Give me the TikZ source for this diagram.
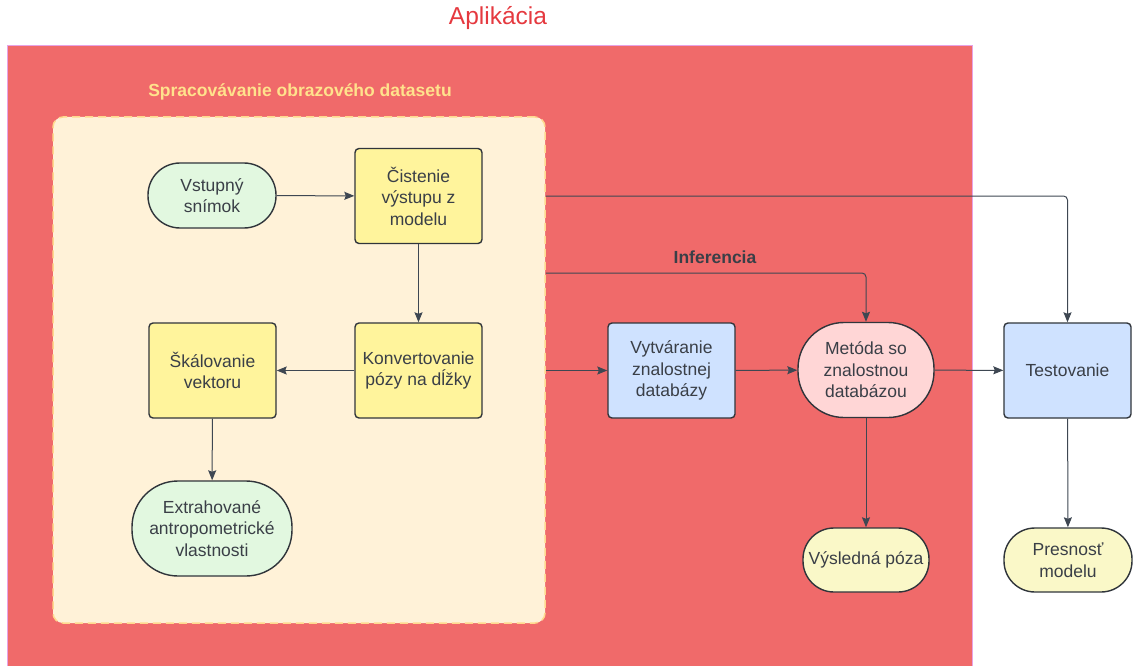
\documentclass[tikz,border=0pt]{standalone}
\usepackage{fontspec}
\setmainfont{Liberation Sans}
\usetikzlibrary{arrows.meta}

\definecolor{appred}{HTML}{F06A6A}
\definecolor{appedge}{HTML}{E6A3E6}
\definecolor{titlered}{HTML}{E5393F}
\definecolor{cream}{HTML}{FFF2D8}
\definecolor{creamedge}{HTML}{FFD98E}
\definecolor{lbl}{HTML}{FFE28C}
\definecolor{boxyellow}{HTML}{FFF49C}
\definecolor{boxgreen}{HTML}{E2F8E0}
\definecolor{boxblue}{HTML}{CFE2FF}
\definecolor{boxpink}{HTML}{FFD6D6}
\definecolor{boxpale}{HTML}{FAF8C8}
\definecolor{edgegray}{HTML}{30353B}
\definecolor{linegray}{HTML}{3E4752}
\definecolor{txtgray}{HTML}{3A3F47}

\begin{document}
\begin{tikzpicture}[x=1pt,y=-1pt,
    every node/.style={font=\fontsize{17.5}{21.5}\selectfont, text=txtgray, align=center, inner sep=2pt},
    procbox/.style={draw=edgegray, line width=1.4pt, rounded corners=4pt, minimum width=127pt, minimum height=95pt},
    termbox/.style={draw=edgegray, line width=1.4pt, rounded corners=#1},
    flow/.style={draw=linegray, line width=1pt, -{Stealth[length=10pt,width=8pt,inset=1.5pt]}}]
    \useasboundingbox (0,0) rectangle (1133,666);

    % application area
    \fill[appred] (7,46) rectangle (972,666);
    \draw[appedge, line width=1pt] (7,670) |- (972,46) -- (972,670);
    \node[text=titlered, font=\fontsize{24.5}{28}\selectfont] (apptitle) at (498,18) {Aplikácia};

    % dataset processing
    \node[draw=creamedge, dashed, dash pattern=on 8pt off 5pt, line width=1.5pt, fill=cream, rounded corners=10pt,
          minimum width=492pt, minimum height=506pt] (dataset) at (299,370) {};
    \node[text=lbl, font=\bfseries\fontsize{17.5}{21.5}\selectfont] (datasetlbl) at (300,92) {Spracovávanie obrazového datasetu};

    \node[termbox=32pt, fill=boxgreen, minimum width=128pt, minimum height=65pt] (vstup) at (212,195.5) {Vstupný\\snímok};
    \node[procbox, fill=boxyellow] (cistenie) at (418.5,196) {Čistenie\\výstupu z\\modelu};
    \node[procbox, fill=boxyellow] (konvert) at (418.5,370.5) {Konvertovanie\\pózy na dĺžky};
    \node[procbox, fill=boxyellow] (skal) at (212.5,370.5) {Škálovanie\\vektoru};
    \node[termbox=46pt, fill=boxgreen, minimum width=160pt, minimum height=95pt] (extra) at (212,528.5) {Extrahované\\antropometrické\\vlastnosti};

    % knowledge base and testing
    \node[procbox, fill=boxblue] (vytvar) at (671.5,370.5) {Vytváranie\\znalostnej\\databázy};
    \node[termbox=46pt, fill=boxpink, minimum width=136pt, minimum height=95pt] (metoda) at (866,370) {Metóda so\\znalostnou\\databázou};
    \node[procbox, fill=boxblue] (testov) at (1067.5,370.5) {Testovanie};
    \node[termbox=31pt, fill=boxpale, minimum width=126pt, minimum height=64pt] (vysled) at (866,560) {Výsledná póza};
    \node[termbox=31pt, fill=boxpale, minimum width=128pt, minimum height=64pt] (presnost) at (1068,560) {Presnosť\\modelu};

    \node[font=\bfseries\fontsize{17.5}{21.5}\selectfont] (inferlbl) at (715,257) {Inferencia};
    \path (dataset.east) ++(0,-97) coordinate (inferstart);

    % connectors
    \draw[flow] (vstup) -- (cistenie);
    \draw[flow] (cistenie) -- (konvert);
    \draw[flow] (konvert) -- (skal);
    \draw[flow] (skal) -- (extra);
    \draw[flow] (dataset.east |- konvert) -- (vytvar);
    \draw[flow] (vytvar) -- (metoda);
    \draw[flow] (metoda) -- (testov);
    \draw[flow, rounded corners=4pt] (dataset.east |- cistenie) -| (testov);
    \draw[flow, rounded corners=4pt] (inferstart) -| (metoda);
    \draw[flow] (metoda) -- (vysled);
    \draw[flow] (testov) -- (presnost);
\end{tikzpicture}
\end{document}
